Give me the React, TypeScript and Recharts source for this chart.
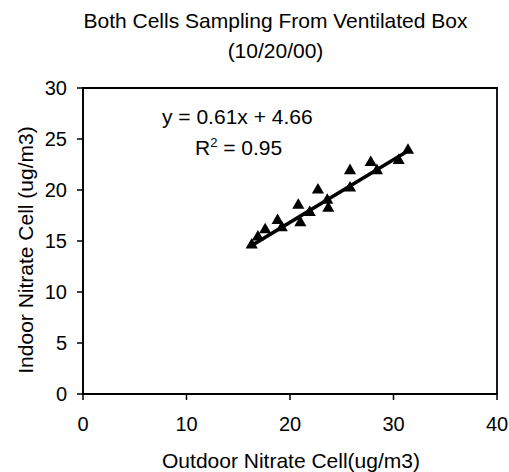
import React from 'react';
import {
    ScatterChart,
    Scatter,
    XAxis,
    YAxis,
    ReferenceArea,
} from 'recharts';

// outdoor vs indoor nitrate readings
const outdoor = [16.3, 16.9, 17.6, 18.8, 19.2, 20.8, 21.0, 21.9, 22.7, 23.7, 23.6, 25.8, 25.8, 27.8, 28.4, 30.5, 31.4];
const indoor = [14.6, 15.4, 16.1, 17.0, 16.3, 18.5, 16.8, 17.8, 20.0, 18.2, 19.0, 20.2, 21.9, 22.7, 21.9, 22.9, 23.9];

// trendline end points
const trendX = [16.2, 31.5];
const trendY = [14.5, 23.9];

const xTicks = [0, 10, 20, 30, 40];
const yTicks = [0, 5, 10, 15, 20, 25, 30];

const FONT = 'Arial, "Liberation Sans", Helvetica, sans-serif';

const App: React.FC = () => {
    const points = outdoor.map((x, i) => ({ x, y: indoor[i] }));
    const trend = trendX.map((x, i) => ({ x, y: trendY[i] }));

    const txt: React.CSSProperties = { position: 'absolute', fontSize: 21, lineHeight: '30px', color: '#000', whiteSpace: 'nowrap' };

    return (
        <div style={{ position: 'absolute', left: 0, top: 0, width: 509, height: 472, background: '#fff', fontFamily: FONT }}>
            <ScatterChart
                width={509}
                height={472}
                margin={{ top: 88, right: 12, left: 0, bottom: 0 }}
            >
                <XAxis
                    type="number"
                    dataKey="x"
                    domain={[0, 40]}
                    ticks={xTicks}
                    height={78}
                    tickSize={6}
                    stroke="#000"
                    strokeWidth={1.5}
                    tick={{ fill: '#000', fontSize: 20, fontFamily: FONT }}
                    tickMargin={17}
                />
                <YAxis
                    type="number"
                    dataKey="y"
                    domain={[0, 30]}
                    ticks={yTicks}
                    width={83}
                    tickSize={6}
                    stroke="#000"
                    strokeWidth={1.5}
                    tick={{ fill: '#000', fontSize: 20, fontFamily: FONT }}
                    tickMargin={10}
                />
                <ReferenceArea x1={0} x2={40} y1={0} y2={30} fill="none" stroke="#000" strokeWidth={1.8} ifOverflow="visible" />
                <Scatter
                    data={trend}
                    line={{ stroke: '#000', strokeWidth: 3.5 }}
                    shape={() => null}
                    isAnimationActive={false}
                />
                <Scatter
                    data={points}
                    shape="triangle"
                    fill="#000"
                    size={55}
                    isAnimationActive={false}
                />
            </ScatterChart>
            <div style={{ ...txt, top: 6, left: 0, width: 551, textAlign: 'center' }}>
                Both Cells Sampling From Ventilated Box
            </div>
            <div style={{ ...txt, top: 36, left: 0, width: 551, textAlign: 'center' }}>
                (10/20/00)
            </div>
            <div
                style={{
                    ...txt,
                    left: 26,
                    top: 250,
                    transform: 'translate(-50%, -50%) rotate(-90deg)',
                }}
            >
                Indoor Nitrate Cell (ug/m3)
            </div>
            <div style={{ ...txt, top: 446, left: 0, width: 582, textAlign: 'center' }}>
                Outdoor Nitrate Cell(ug/m3)
            </div>
            <div style={{ ...txt, left: 162, top: 102 }}>
                y = 0.61x + 4.66
            </div>
            <div style={{ ...txt, left: 195, top: 133 }}>
                R<sup style={{ fontSize: 13, lineHeight: 0, verticalAlign: 8 }}>2</sup> = 0.95
            </div>
        </div>
    );
};

export default App;
